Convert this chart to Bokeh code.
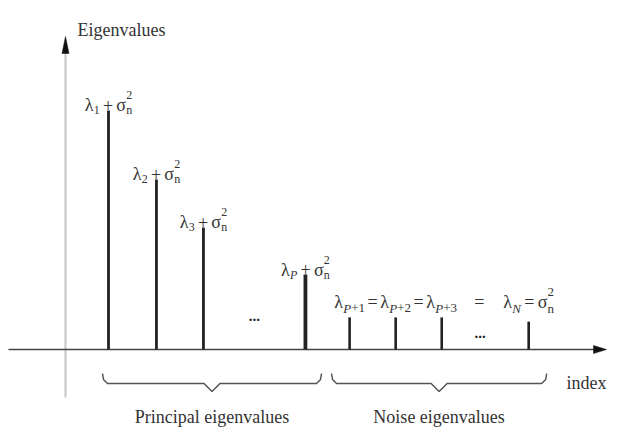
from bokeh.plotting import figure
from bokeh.models import Range1d, ColumnDataSource
from bokeh.embed import file_html
from bokeh.resources import INLINE
from bokeh.core.properties import value

# ---------------- data ----------------
index_pos = [1.0, 2.02, 3.02, 5.19, 6.13, 7.11, 8.09, 9.94]
eigenvalues = [7.97, 5.67, 4.07, 2.5, 1.07, 1.07, 1.07, 0.93]
bar_group = ["principal", "principal", "principal", "principal",
             "noise", "noise", "noise", "noise"]
principal_labels = [
    [("λ", "b"), ("1", "sub"), (" + ", "b"), ("σ", "b"), ("n", "sub"), ("2", "sup")],
    [("λ", "b"), ("2", "sub"), (" + ", "b"), ("σ", "b"), ("n", "sub"), ("2", "sup")],
    [("λ", "b"), ("3", "sub"), (" + ", "b"), ("σ", "b"), ("n", "sub"), ("2", "sup")],
    [("λ", "b"), ("P", "subi"), (" + ", "b"), ("σ", "b"), ("n", "sub"), ("2", "sup")],
]
noise_labels = [
    [("λ", "b"), ("P", "subi"), ("+1", "sub")],
    [("λ", "b"), ("P", "subi"), ("+2", "sub")],
    [("λ", "b"), ("P", "subi"), ("+3", "sub")],
    [("λ", "b"), ("N", "subi"), (" = ", "b"), ("σ", "b"), ("n", "sub"), ("2", "sup")],
]
equals_sign = "="
ellipsis = "..."
group_names = ["Principal eigenvalues", "Noise eigenvalues"]
x_title = "index"
y_title = "Eigenvalues"

# ---------------- layout / scales ----------------
W, H = 625, 429
PX_SLOT = 47.0      # pixels per index slot
PX_UNIT = 30.0      # pixels per eigenvalue unit
AXIS_PY = 349.0     # screen row of the index axis
X0 = 1.0 - 108.0 / PX_SLOT
Y0 = -(H - AXIS_PY) / PX_UNIT


def xd(px):
    return X0 + px / PX_SLOT


def yd(py):
    return (AXIS_PY - py) / PX_UNIT


def xp(s):
    return (s - X0) * PX_SLOT


def yp(v):
    return AXIS_PY - v * PX_UNIT


p = figure(width=W, height=H, output_backend="svg", toolbar_location=None,
           x_range=Range1d(X0, X0 + W / PX_SLOT), y_range=Range1d(Y0, Y0 + H / PX_UNIT),
           min_border=0)
p.axis.visible = False
p.grid.visible = False
p.outline_line_color = None
p.background_fill_color = "white"
p.border_fill_color = "white"

FONT = "Liberation Serif"
TXT = "#333333"

# ---------------- axes ----------------
y_axis_px = 65
p.line(x=[xd(y_axis_px)] * 2, y=[yd(397), yd(50)], line_color="#c4c4c4", line_width=2)
p.line(x=[xd(8), xd(596)], y=[0, 0], line_color="#444444", line_width=1.6)
p.patches(xs=[[xd(y_axis_px), xd(y_axis_px - 3.5), xd(y_axis_px + 3.5)],
              [xd(606), xd(593), xd(593)]],
          ys=[[yd(36), yd(53), yd(53)],
              [0, yd(345), yd(353)]],
          fill_color="#111111", line_color="#111111", line_width=0.5)

# ---------------- stems ----------------
widths = [2.6 if g == "noise" else 2.8 for g in bar_group]
widths[3] = 3.8
p.segment(x0=index_pos, y0=[0] * len(index_pos), x1=index_pos, y1=eigenvalues,
          line_color="#222222", line_width=widths)

# ---------------- math-like labels ----------------
EM = {"λ": 0.5, "σ": 0.55, "+": 0.564, "=": 0.564, " ": 0.18, "P": 0.611,
      "N": 0.667, "n": 0.5}
BASE_SIZE = 18
rows = []  # (x, y, text, size, style)


def width_of(txt, size):
    return sum(EM.get(c, 0.5) for c in txt) * size


def piece_layout(pieces, sub_size, sub_dy, sup_dy):
    out = []
    x = 0.0
    last_sub_x = None
    for txt, role in pieces:
        if role == "b":
            lead = len(txt) - len(txt.lstrip(" "))
            core = txt.strip(" ")
            trail = len(txt) - len(txt.rstrip(" "))
            x += width_of(" " * lead, BASE_SIZE)
            out.append((x, 0, core, BASE_SIZE, "normal"))
            x += width_of(core, BASE_SIZE) + width_of(" " * trail, BASE_SIZE)
            last_sub_x = None
        elif role in ("sub", "subi"):
            style = "italic" if role == "subi" else "normal"
            out.append((x, sub_dy, txt, sub_size, style))
            last_sub_x = x
            x += width_of(txt, sub_size)
        elif role == "sup":
            sx = last_sub_x if last_sub_x is not None else x
            out.append((sx, sup_dy, txt, sub_size, "normal"))
            x = max(x, sx + width_of(txt, sub_size))
    return out, x


def place(pieces, cx_px, base_py, sub_size=12, sub_dy=5, sup_dy=-10):
    lay, total = piece_layout(pieces, sub_size, sub_dy, sup_dy)
    left = cx_px - total / 2.0
    for dx, dy, txt, size, style in lay:
        rows.append((xd(left + dx), yd(base_py + dy), txt, size, style))


# principal labels: centred over each stem, just above its top
for i, pieces in enumerate(principal_labels):
    place(pieces, xp(index_pos[i]), yp(eigenvalues[i]) - 5)

# noise labels: one row above the noise stems
noise_idx = [i for i, g in enumerate(bar_group) if g == "noise"]
noise_top = max(eigenvalues[i] for i in noise_idx)
noise_base = yp(noise_top) - 15
for k, i in enumerate(noise_idx):
    place(noise_labels[k], xp(index_pos[i]), noise_base, sub_size=13, sub_dy=6)
for a, b in zip(noise_idx[:-1], noise_idx[1:]):
    mid = (xp(index_pos[a]) + xp(index_pos[b])) / 2.0
    if b == noise_idx[-1]:
        mid -= 6
    rows.append((xd(mid - width_of("=", BASE_SIZE) / 2), yd(noise_base), equals_sign,
                 BASE_SIZE, "normal"))

groups = {}
for x, y, t, s, st in rows:
    groups.setdefault((s, st), []).append((x, y, t))
for (s, st), items in groups.items():
    src = ColumnDataSource(dict(x=[r[0] for r in items], y=[r[1] for r in items],
                                text=[r[2] for r in items]))
    p.text(x="x", y="y", text="text", source=src, text_font=value(FONT),
           text_font_size=f"{s}px", text_font_style=st, text_color=TXT,
           text_align="left", text_baseline="alphabetic")

# ellipses in the gaps
p_idx = [i for i, g in enumerate(bar_group) if g == "principal"]
dots_x = [(xp(index_pos[p_idx[-2]]) + xp(index_pos[p_idx[-1]])) / 2.0,
          (xp(index_pos[noise_idx[-2]]) + xp(index_pos[noise_idx[-1]])) / 2.0 - 5]
dots_y = [315, 332]
p.text(x=[xd(v) for v in dots_x], y=[yd(v) for v in dots_y], text=[ellipsis, ellipsis],
       text_font=value(FONT), text_font_size="15px", text_font_style="bold",
       text_color="#222222", text_align="center", text_baseline="alphabetic")

# ---------------- braces ----------------
brace_spans = [
    (xp(index_pos[p_idx[0]]) - 6,
     (xp(index_pos[p_idx[-1]]) + xp(index_pos[noise_idx[0]])) / 2.0 - 6),
    ((xp(index_pos[p_idx[-1]]) + xp(index_pos[noise_idx[0]])) / 2.0 + 4,
     xp(index_pos[noise_idx[-1]]) + 18),
]
bx, by = [], []
for L, R in brace_spans:
    C = (L + R) / 2.0
    pts = [(L, 373), (L + 1, 379), (L + 5, 383), (C - 8, 383), (C, 391),
           (C + 8, 383), (R - 5, 383), (R - 1, 379), (R, 373)]
    bx.append([xd(a) for a, _ in pts])
    by.append([yd(b) for _, b in pts])
p.multi_line(xs=bx, ys=by, line_color="#555555", line_width=1.5)

p.text(x=[xd((L + R) / 2.0) for L, R in brace_spans], y=[yd(416)] * 2, text=group_names,
       text_font=value(FONT), text_font_size="18px", text_color=TXT,
       text_align="center", text_baseline="alphabetic")

# axis titles
p.text(x=[xd(77)], y=[yd(29)], text=[y_title], text_font=value(FONT),
       text_font_size="18px", text_color=TXT, text_align="left", text_baseline="alphabetic")
p.text(x=[xd(566)], y=[yd(382)], text=[x_title], text_font=value(FONT),
       text_font_size="18px", text_color=TXT, text_align="left", text_baseline="alphabetic")

open("out.html", "w").write(file_html(p, INLINE))
